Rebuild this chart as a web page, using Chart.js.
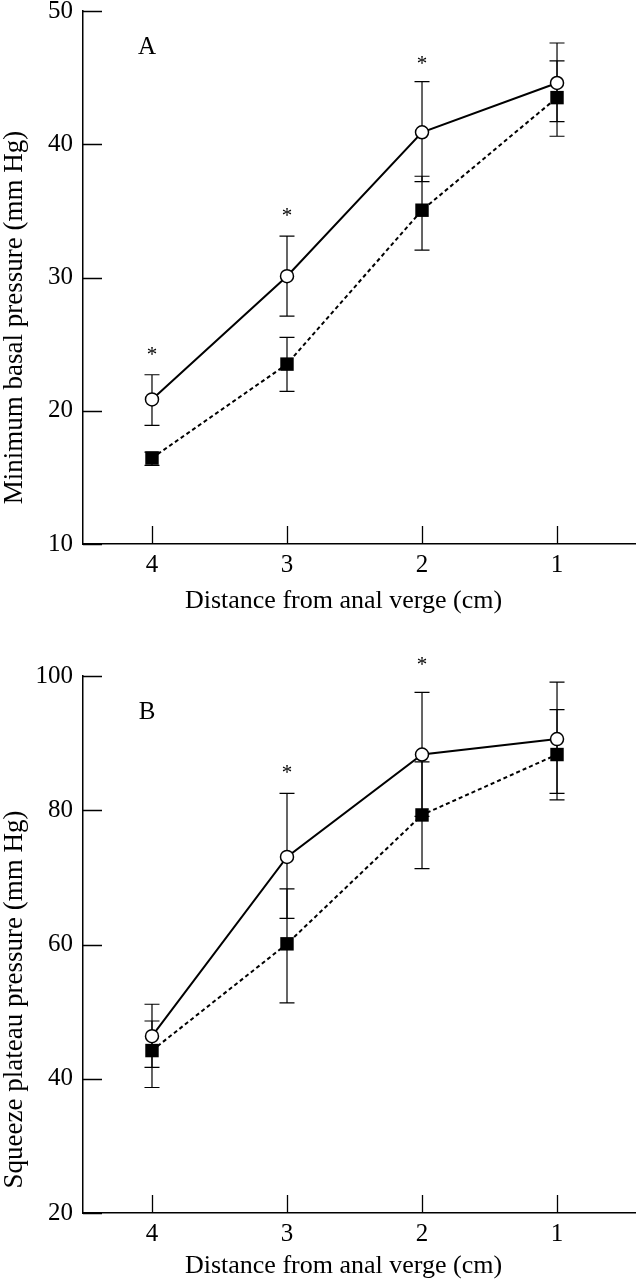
<!DOCTYPE html>
<html>
<head>
<meta charset="utf-8">
<script src="https://cdn.jsdelivr.net/npm/chart.js@4.4.0/dist/chart.umd.min.js"></script>
<style>
  html, body { margin: 0; padding: 0; background: #fff; overflow: hidden; }
  .box { position: relative; width: 636px; }
  canvas { display: block; }
</style>
</head>
<body>
<div class="box" style="height:620px"><canvas id="chartA"></canvas></div>
<div class="box" style="height:660px"><canvas id="chartB"></canvas></div>
<script>
// distance from anal verge, cm (x axis runs 4 -> 1)
const distances = [4, 3, 2, 1];

// A: minimum basal pressure
const basalOpen = [20.85, 30.1, 40.9, 44.6];
const basalOpenLow = [18.9, 27.1, 37.2, 41.7];
const basalOpenHigh = [22.7, 33.1, 44.7, 47.6];
const basalFilled = [16.45, 23.5, 35.05, 43.5];
const basalFilledLow = [15.9, 21.45, 32.05, 40.6];
const basalFilledHigh = [16.9, 25.5, 37.6, 46.25];
const basalStars = [24.5, 34.9, 46.35, null];
const basalTicks = [10, 20, 30, 40, 50];

// B: squeeze plateau pressure
const squeezeOpen = [46.35, 73.05, 88.3, 90.6];
const squeezeOpenLow = [41.7, 63.9, 79.1, 82.5];
const squeezeOpenHigh = [51.1, 82.5, 97.55, 99.1];
const squeezeFilled = [44.2, 60.1, 79.3, 88.3];
const squeezeFilledLow = [38.7, 51.3, 71.3, 81.55];
const squeezeFilledHigh = [48.6, 68.3, 87.2, 95.0];
const squeezeStars = [null, 86.2, 102.2, null];
const squeezeTicks = [20, 40, 60, 80, 100];

const FONT = "'Liberation Serif', 'Times New Roman', serif";

const errorBars = {
  id: 'errorBars',
  beforeDatasetsDraw(chart, args, opts) {
    const { ctx, scales: { x, y } } = chart;
    ctx.save();
    ctx.strokeStyle = '#000';
    ctx.lineWidth = 1.2;
    opts.bars.forEach(b => {
      distances.forEach((d, i) => {
        const px = x.getPixelForValue(d);
        const top = y.getPixelForValue(b.high[i]);
        const bot = y.getPixelForValue(b.low[i]);
        ctx.beginPath();
        ctx.moveTo(px, top); ctx.lineTo(px, bot);
        ctx.moveTo(px - 7.5, top); ctx.lineTo(px + 7.5, top);
        ctx.moveTo(px - 7.5, bot); ctx.lineTo(px + 7.5, bot);
        ctx.stroke();
      });
    });
    ctx.restore();
  }
};

// inward ticks, asterisks, panel letter and axis titles
const decorations = {
  id: 'decorations',
  afterDraw(chart, args, opts) {
    const { ctx, chartArea: area, scales: { x, y } } = chart;
    ctx.save();
    ctx.strokeStyle = '#000';
    ctx.lineWidth = 1.3;
    ctx.beginPath();
    y.ticks.forEach(t => {
      const py = Math.round(y.getPixelForValue(t.value)) + 0.5;
      ctx.moveTo(area.left, py); ctx.lineTo(area.left + 19, py);
    });
    x.ticks.forEach(t => {
      const px = Math.round(x.getPixelForValue(t.value)) + 0.5;
      ctx.moveTo(px, area.bottom); ctx.lineTo(px, area.bottom - 18);
    });
    ctx.stroke();

    ctx.fillStyle = '#000';
    ctx.textAlign = 'center';
    ctx.textBaseline = 'alphabetic';
    ctx.font = '21px ' + FONT;
    const m = ctx.measureText('*');
    const mid = (m.actualBoundingBoxAscent - m.actualBoundingBoxDescent) / 2;
    opts.stars.forEach((v, i) => {
      if (v == null) return;
      ctx.fillText('*', x.getPixelForValue(distances[i]), y.getPixelForValue(v) + mid);
    });

    ctx.textBaseline = 'middle';
    ctx.font = '25px ' + FONT;
    ctx.fillText(opts.letter, area.left + 64, area.top + 36);

    ctx.font = '26px ' + FONT;
    ctx.fillText('Distance from anal verge (cm)', (area.left + area.right) / 2 - 16, area.bottom + opts.xTitleGap);

    ctx.save();
    ctx.translate(15, (area.top + area.bottom) / 2 + opts.yTitleShift);
    ctx.rotate(-Math.PI / 2);
    ctx.font = '27px ' + FONT;
    ctx.fillText(opts.yTitle, 0, 0);
    ctx.restore();
    ctx.restore();
  }
};

function pts(vals) {
  return distances.map((d, i) => ({ x: d, y: vals[i] }));
}

function makeChart(id, p) {
  return new Chart(document.getElementById(id), {
    type: 'line',
    data: {
      datasets: [
        {
          data: pts(p.open),
          borderColor: '#000', borderWidth: 2,
          pointStyle: 'circle', pointRadius: 6.5,
          pointBackgroundColor: '#fff', pointBorderColor: '#000', pointBorderWidth: 1.5,
          order: 1
        },
        {
          data: pts(p.filled),
          borderColor: '#000', borderWidth: 2, borderDash: [4, 3],
          pointStyle: 'rect', pointRadius: 9.5,
          pointBackgroundColor: '#000', pointBorderColor: '#000', pointBorderWidth: 0,
          order: 0
        }
      ]
    },
    options: {
      responsive: true,
      maintainAspectRatio: false,
      animation: false,
      layout: { autoPadding: false, padding: { top: p.top, left: 0, right: 0, bottom: 0 } },
      plugins: {
        legend: { display: false },
        tooltip: { enabled: false },
        errorBars: { bars: [
          { low: p.openLow, high: p.openHigh },
          { low: p.filledLow, high: p.filledHigh }
        ] },
        decorations: { stars: p.stars, letter: p.letter, yTitle: p.yTitle, yTitleShift: p.yTitleShift, xTitleGap: p.xTitleGap }
      },
      scales: {
        x: {
          type: 'linear',
          reverse: true,
          min: 0.415,
          max: 4.511,
          afterBuildTicks: s => { s.ticks = distances.map(v => ({ value: v })); },
          afterFit: s => { s.height = p.xHeight; s.paddingLeft = 0; s.paddingRight = 0; },
          grid: { display: false, drawTicks: false },
          border: { display: true, color: '#000', width: 1.5 },
          ticks: { color: '#000', font: { family: FONT, size: 25 }, padding: 6, maxRotation: 0 }
        },
        y: {
          min: p.ticks[0],
          max: p.ticks[p.ticks.length - 1],
          afterBuildTicks: s => { s.ticks = p.ticks.map(v => ({ value: v })); },
          afterFit: s => { s.width = 83; s.paddingTop = 0; s.paddingBottom = 0; },
          grid: { display: false, drawTicks: false },
          border: { display: true, color: '#000', width: 1.5 },
          ticks: { color: '#000', font: { family: FONT, size: 25 }, padding: 10 }
        }
      }
    },
    plugins: [errorBars, decorations]
  });
}

makeChart('chartA', {
  open: basalOpen, openLow: basalOpenLow, openHigh: basalOpenHigh,
  filled: basalFilled, filledLow: basalFilledLow, filledHigh: basalFilledHigh,
  stars: basalStars, ticks: basalTicks, letter: 'A',
  yTitle: 'Minimum basal pressure (mm Hg)', yTitleShift: 40,
  top: 11, xHeight: 76, xTitleGap: 57
});

makeChart('chartB', {
  open: squeezeOpen, openLow: squeezeOpenLow, openHigh: squeezeOpenHigh,
  filled: squeezeFilled, filledLow: squeezeFilledLow, filledHigh: squeezeFilledHigh,
  stars: squeezeStars, ticks: squeezeTicks, letter: 'B',
  yTitle: 'Squeeze plateau pressure (mm Hg)', yTitleShift: 55,
  top: 56, xHeight: 67, xTitleGap: 53
});
</script>
</body>
</html>
